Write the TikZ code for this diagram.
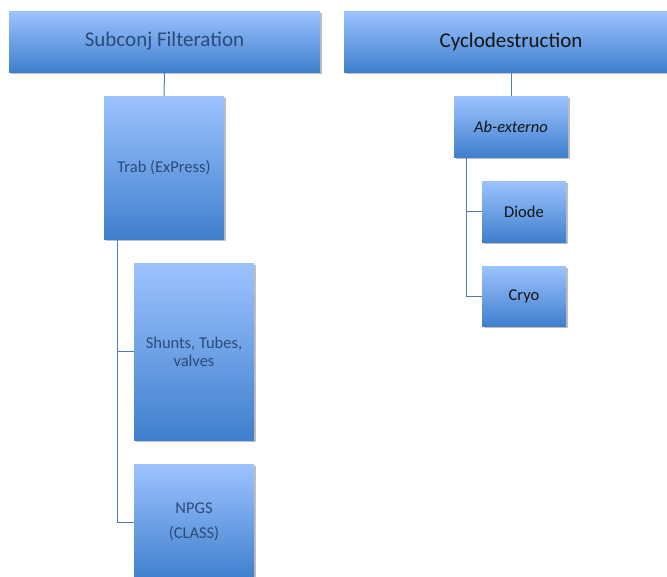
\documentclass[tikz,border=0pt]{standalone}
\usepackage{fontspec}
\setmainfont{Carlito}
\usepackage{tikz}
\usetikzlibrary{shadows}
\definecolor{boxtop}{HTML}{9DC3FF}
\definecolor{boxbot}{HTML}{3F7FCD}
\definecolor{linkcol}{HTML}{4F7CB8}
\definecolor{lefttext}{HTML}{2B4B78}
\definecolor{righttext}{HTML}{141414}
\tikzset{
    box/.style={
        rectangle, inner sep=0pt, outer sep=0pt,
        top color=boxtop, bottom color=boxbot, draw=none,
        align=center,
        drop shadow={shadow xshift=1.5pt, shadow yshift=-2pt, opacity=0.25, fill=black}
    },
    title/.style={box, minimum height=61, font=\fontsize{21}{25}\selectfont},
    leaf/.style={box, font=\fontsize{16.5}{18}\selectfont},
    link/.style={draw=linkcol, line width=1pt}
}

\begin{document}
\begin{tikzpicture}[x=1pt,y=-1pt]
		\useasboundingbox (0,0) rectangle (667,576);
		\clip (0,0) rectangle (667,576);

		% Subconj branch
		\node[title, minimum width=311, text=lefttext] (subconj) at (164.5,41.5) {Subconj Filteration};
		\node[leaf, minimum width=120, minimum height=143, text=lefttext] (trab) at (164,167.5) {Trab (ExPress)};
		\node[leaf, minimum width=120, minimum height=177, text=lefttext] (shunts) at (194,351.5) {Shunts, Tubes,\\valves};
		\node[leaf, minimum width=120, minimum height=116, text=lefttext] (npgs) at (194,522) {NPGS\\[7pt](CLASS)};

		% Cyclodestruction branch
		\node[title, minimum width=334, text=righttext] (cyclo) at (511,41.5) {Cyclodestruction};
		\node[leaf, minimum width=114, minimum height=61, text=righttext] (abext) at (511,126.5) {\itshape Ab-externo};
		\node[leaf, minimum width=84, minimum height=61, text=righttext] (diode) at (524,211.5) {Diode};
		\node[leaf, minimum width=84, minimum height=60, text=righttext] (cryo) at (524,296) {Cryo};

		% connectors
		\coordinate (trabfoot) at ([xshift=-47pt]trab.south);
		\coordinate (abextfoot) at ([xshift=-45pt]abext.south);
		\draw[link] (subconj.south) -- (trab.north);
		\draw[link] (trabfoot) |- (shunts.west);
		\draw[link] (trabfoot) |- (npgs.west);
		\draw[link] (cyclo.south) -- (abext.north);
		\draw[link] (abextfoot) |- (diode.west);
		\draw[link] (abextfoot) |- (cryo.west);

	\end{tikzpicture}
\end{document}
